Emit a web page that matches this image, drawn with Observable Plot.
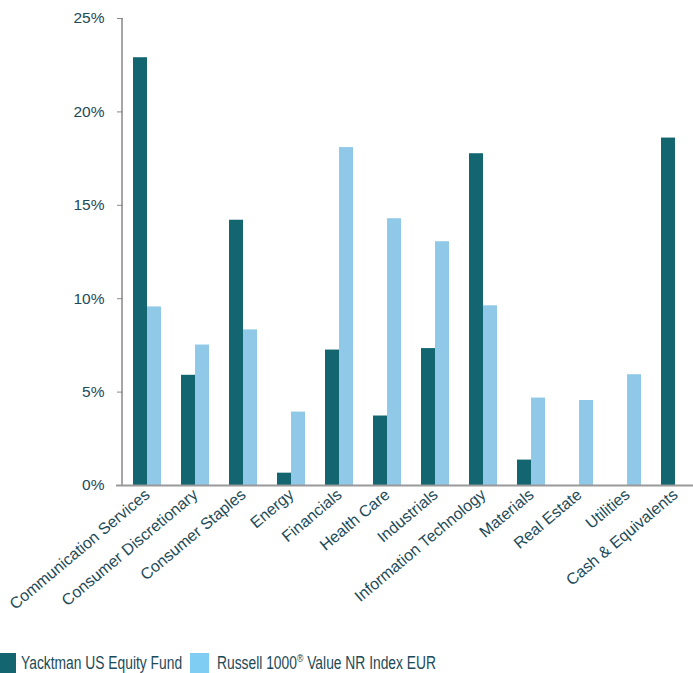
<!DOCTYPE html>
<html>
<head>
<meta charset="utf-8">
<script src="https://cdn.jsdelivr.net/npm/d3@7"></script>
<script src="https://cdn.jsdelivr.net/npm/@observablehq/plot@0.6"></script>
<style>
  html, body { margin: 0; padding: 0; background: #fff; overflow: hidden; }
  body { width: 693px; height: 673px; font-family: "Liberation Sans", Arial, sans-serif; position: relative; }
  #chart svg { display: block; }
  .legend { position: absolute; left: 0; top: 652px; width: 693px; height: 21px; font-family: "Liberation Sans", Arial, sans-serif; font-size: 17.5px; color: #1c4a58; white-space: nowrap; }
  .sw { position: absolute; top: 1px; height: 21px; }
  .lt { position: absolute; top: 1px; line-height: 21px; transform: scaleX(0.79); transform-origin: 0 50%; }
</style>
</head>
<body>
<div id="chart"></div>
<div class="legend">
  <span class="sw" style="left:0;width:16px;background:#136570"></span>
  <span class="lt" style="left:21px">Yacktman US Equity Fund</span>
  <span class="sw" style="left:190px;width:19px;background:#7fcdf2"></span>
  <span class="lt" style="left:217px">Russell 1000<sup style="font-size:11px;vertical-align:7px;line-height:0">®</sup> Value NR Index EUR</span>
</div>
<script>
const categories = ["Communication Services", "Consumer Discretionary", "Consumer Staples", "Energy", "Financials", "Health Care", "Industrials", "Information Technology", "Materials", "Real Estate", "Utilities", "Cash & Equivalents"];
const seriesNames = ["Yacktman US Equity Fund", "Russell 1000® Value NR Index EUR"];
const fundValues = [22.9, 5.9, 14.2, 0.66, 7.25, 3.72, 7.33, 17.76, 1.36, 0, 0, 18.6];
const indexValues = [9.56, 7.52, 8.33, 3.93, 18.09, 14.28, 13.05, 9.62, 4.68, 4.55, 5.93, 0];
const yTicks = [0, 5, 10, 15, 20, 25];
const colors = ["#136570", "#8fc9e7"];

const data = [];
categories.forEach((c, i) => {
  data.push({category: c, series: seriesNames[0], value: fundValues[i]});
  data.push({category: c, series: seriesNames[1], value: indexValues[i]});
});

const textColor = "#1c4a58";
const chart = Plot.plot({
  width: 693,
  height: 640,
  marginTop: 18,
  marginBottom: 155,
  marginLeft: 122,
  marginRight: 0,
  style: {fontFamily: "Liberation Sans, Arial, sans-serif", fontSize: "15px", color: textColor, background: "#fff", overflow: "hidden"},
  fx: {domain: categories, range: [121.5, 699.5], paddingInner: 0, paddingOuter: 0, label: null},
  x: {domain: seriesNames, paddingInner: 0, paddingOuter: 0.606, axis: null},
  y: {domain: [0, 25], label: null},
  color: {domain: seriesNames, range: colors},
  marks: [
    Plot.barY(data, {fx: "category", x: "series", y: "value", fill: "series"}),
    Plot.axisFx({anchor: "bottom", tickRotate: -40, tickSize: 0, tickPadding: 7, fontSize: 16, fill: textColor, label: null}),
    Plot.axisY({ticks: yTicks, tickFormat: d => d + "%", tickSize: 6, tickPadding: 13, fontSize: 15.5, stroke: "#888", fill: textColor, label: null, anchor: "left"}),
  ]
});
document.getElementById("chart").appendChild(chart);

// axis line and baseline drawn from the y scale
const ys = chart.scale("y");
const svg = d3.select(chart);
svg.append("line").attr("x1", 122).attr("x2", 122).attr("y1", ys.apply(25)).attr("y2", ys.apply(0)).attr("stroke", "#888").attr("stroke-width", 1.5);
svg.append("line").attr("x1", 116).attr("x2", 693).attr("y1", ys.apply(0) + 0.5).attr("y2", ys.apply(0) + 0.5).attr("stroke", "#999").attr("stroke-width", 2);
</script>
</body>
</html>
